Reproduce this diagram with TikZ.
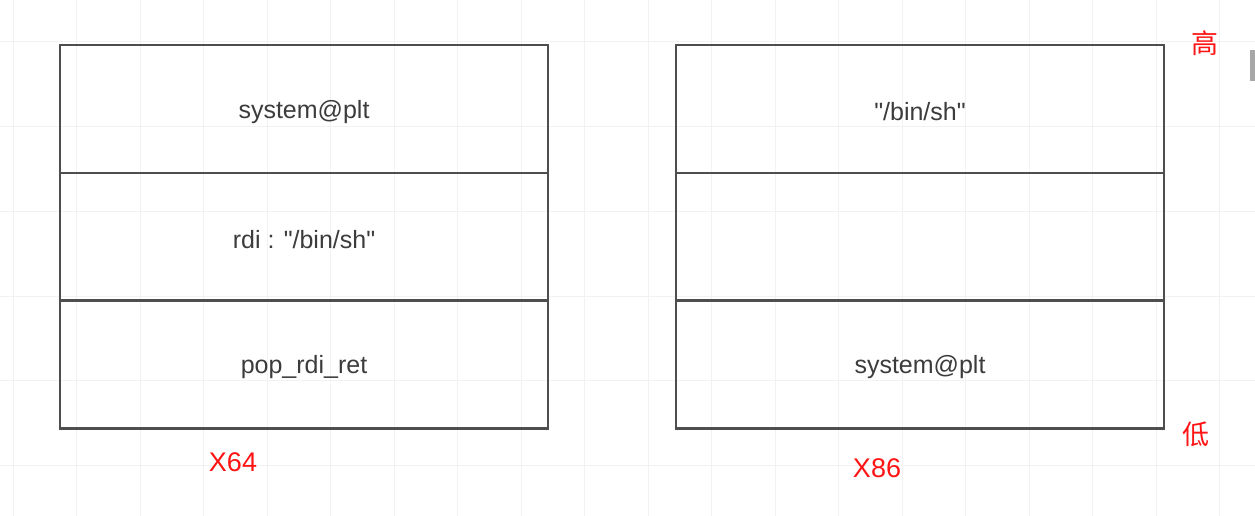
\documentclass[tikz,border=0pt]{standalone}
\usepackage{fontspec}
\setmainfont{Liberation Sans}[Ligatures=TeXOff]
\newfontfamily\cjkFont{Noto Sans CJK SC}
\usetikzlibrary{positioning}
\definecolor{boxColor}{RGB}{78,78,78}
\definecolor{cellTextColor}{RGB}{60,60,60}
\definecolor{markColor}{RGB}{255,20,20}
\definecolor{gridColor}{RGB}{242,242,242}
\tikzstyle{stackCell} = [draw=boxColor, line width=2.6pt, minimum width=488pt, minimum height=127.7pt, inner sep=0pt, outer sep=0pt]
\tikzstyle{cellText} = [text=cellTextColor, yshift=-3pt, font=\fontsize{25}{25}\selectfont]
\tikzstyle{archLabel} = [text=markColor, inner sep=1pt, font=\fontsize{27}{27}\selectfont]
\tikzstyle{gridLine} = [color=gridColor, line width=1pt]
\newcommand{\verticalGridLine}[1]{\draw [gridLine] (#1, 0) -- + (0,516);}
\newcommand{\horizontalGridLine}[1]{\draw [gridLine] (0, #1) -- + (1255,0);}
\newcommand{\gridLines}{
  \foreach \vertical in {0,...,19} {
    \pgfmathsetmacro{\var}{13 + 63.5 * \vertical}
    \verticalGridLine{\var}
  }
  \foreach \horizontal in {0,...,5} {
    \pgfmathsetmacro{\var}{42 + 84.7 * \horizontal}
    \horizontalGridLine{\var}
  }
}

\begin{document}
\begin{tikzpicture}[x=1pt, y=-1pt]
  \useasboundingbox [fill=white] (0,0) rectangle (1255,516);
  \gridLines

  % x64 stack
  \node [stackCell] (leftTop) at (304,109) {};
  \node [stackCell, below=0pt of leftTop] (leftMid) {};
  \node [stackCell, below=0pt of leftMid] (leftLow) {};
  \node [cellText] (leftTopText) at (leftTop) {system@plt};
  \node [cellText] (leftMidText) at (leftMid) {rdi : "/bin/sh"};
  \node [cellText] (leftLowText) at (leftLow) {pop\_rdi\_ret};

  % x86 stack
  \node [stackCell] (rightTop) at (920,109) {};
  \node [stackCell, below=0pt of rightTop] (rightMid) {};
  \node [stackCell, below=0pt of rightMid] (rightLow) {};
  \node [cellText] (rightTopText) at (rightTop) {"/bin/sh"};
  \node [cellText] (rightLowText) at (rightLow) {system@plt};

  \node [archLabel] (leftArch) at (233,462) {X64};
  \node [archLabel] (rightArch) at (877,468) {X86};
  \node [archLabel] (highMark) at (1205,43) {\cjkFont 高};
  \node [archLabel] (lowMark) at (1196,434) {\cjkFont 低};

  \fill [boxColor!50] (1250,50) rectangle (1255,81);
\end{tikzpicture}
\end{document}
